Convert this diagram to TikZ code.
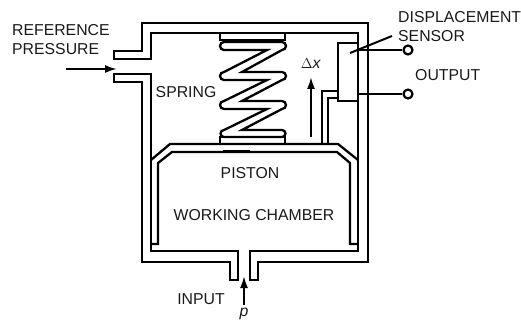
\documentclass[tikz,border=0pt]{standalone}
\usepackage{fontspec}
\setmainfont{Liberation Sans}
\usetikzlibrary{arrows.meta}
\begin{document}
\begin{tikzpicture}[
        x=1pt, y=-1pt,
        wall/.style={draw=black, line width=2.3pt, line join=miter},
        label/.style={font=\fontsize{15.8}{19}\selectfont, text=black!90, inner sep=0pt},
        terminal/.style={circle, draw=black, line width=2.2pt, fill=white, minimum size=9pt, inner sep=0pt},
        wire/.style={line width=2pt, black},
        flow/.style={-{Latex[length=12pt,width=8pt]}, line width=2pt, black}
    ]
    \useasboundingbox (0,0) rectangle (521,320);

    % Housing
    \draw[wall] (114,51) -- (142,51) -- (142,23) -- (368,23) -- (368,262) -- (258,262) -- (258,280) -- (250,280)
        -- (250,251) -- (358,251) -- (358,33) -- (151,33) -- (151,59) -- (114,59) -- cycle;
    \draw[wall] (114,74) -- (151,74) -- (151,251) -- (238,251) -- (238,280) -- (230,280) -- (230,262)
        -- (142,262) -- (142,82) -- (114,82) -- cycle;

    % Piston
    \draw[wall] (151,160) -- (170,144) -- (338,144) -- (358,160);
    \draw[wall] (151,244) -- (158,244) -- (158,163) -- (172,152) -- (337,152) -- (350,163) -- (350,244) -- (358,244);
    \draw[wall, line width=3pt] (223,152) -- (250,152);

    % Spring
    \draw[wall] (220,33) rectangle (285,40);
    \draw[wall] (220,137) rectangle (285,144);
    \draw[wall] (224,42) -- (282,42) arc (-90:90:4) -- (242,72) -- (282,72) arc (-90:90:4)
        -- (242,101) -- (282,101) arc (-90:90:4) -- (242,130) -- (282,130) arc (-90:90:3.5) -- (224,137) arc (90:270:3.5)
        -- (267,109) -- (224,109) arc (90:270:4) -- (267,80) -- (224,80) arc (90:270:4) -- (267,50) -- (224,50) arc (90:270:4) -- cycle;

    % Sensor
    \draw[wall] (338,43) rectangle (358,101);
    \draw[wall] (322,144) -- (322,91) -- (338,91);
    \draw[wall] (328,144) -- (328,98) -- (338,98);
    \coordinate (S1) at (358,50);
    \coordinate (S2) at (358,94);
    \node[terminal] (O1) at (408,50) {};
    \node[terminal] (O2) at (408,94) {};
    \draw[wire] (S1) -- (O1);
    \draw[wire] (S2) -- (O2);
    \coordinate (L1) at (392,36);
    \coordinate (L2) at (350,53);
    \draw[wire] (L1) -- (L2);

    % Arrows
    \coordinate (D1) at (311,137);
    \coordinate (D2) at (311,77);
    \draw[flow] (D1) -- (D2);
    \coordinate (R1) at (66,69);
    \coordinate (R2) at (117,69);
    \draw[flow] (R1) -- (R2);
    \coordinate (P1) at (244,305);
    \coordinate (P2) at (244,276);
    \draw[flow] (P1) -- (P2);

    % Labels
    \node[label, align=left, anchor=west] (Ref) at (12,39.5) {REFERENCE\\PRESSURE};
    \node[label, align=left, anchor=west] (Disp) at (398,27) {DISPLACEMENT\\SENSOR};
    \node[label, anchor=west] (Out) at (415,75) {OUTPUT};
    \node[label] (Spr) at (186,92) {SPRING};
    \node[label] (Pis) at (250,173) {PISTON};
    \node[label] (Work) at (254,215) {WORKING CHAMBER};
    \node[label] (In) at (201,299) {INPUT};
    \node[label] (Pin) at (244,314) {\textit{p}};
    \node[label] (Dx) at (311,64) {$\Delta$\textit{x}};
\end{tikzpicture}
\end{document}
